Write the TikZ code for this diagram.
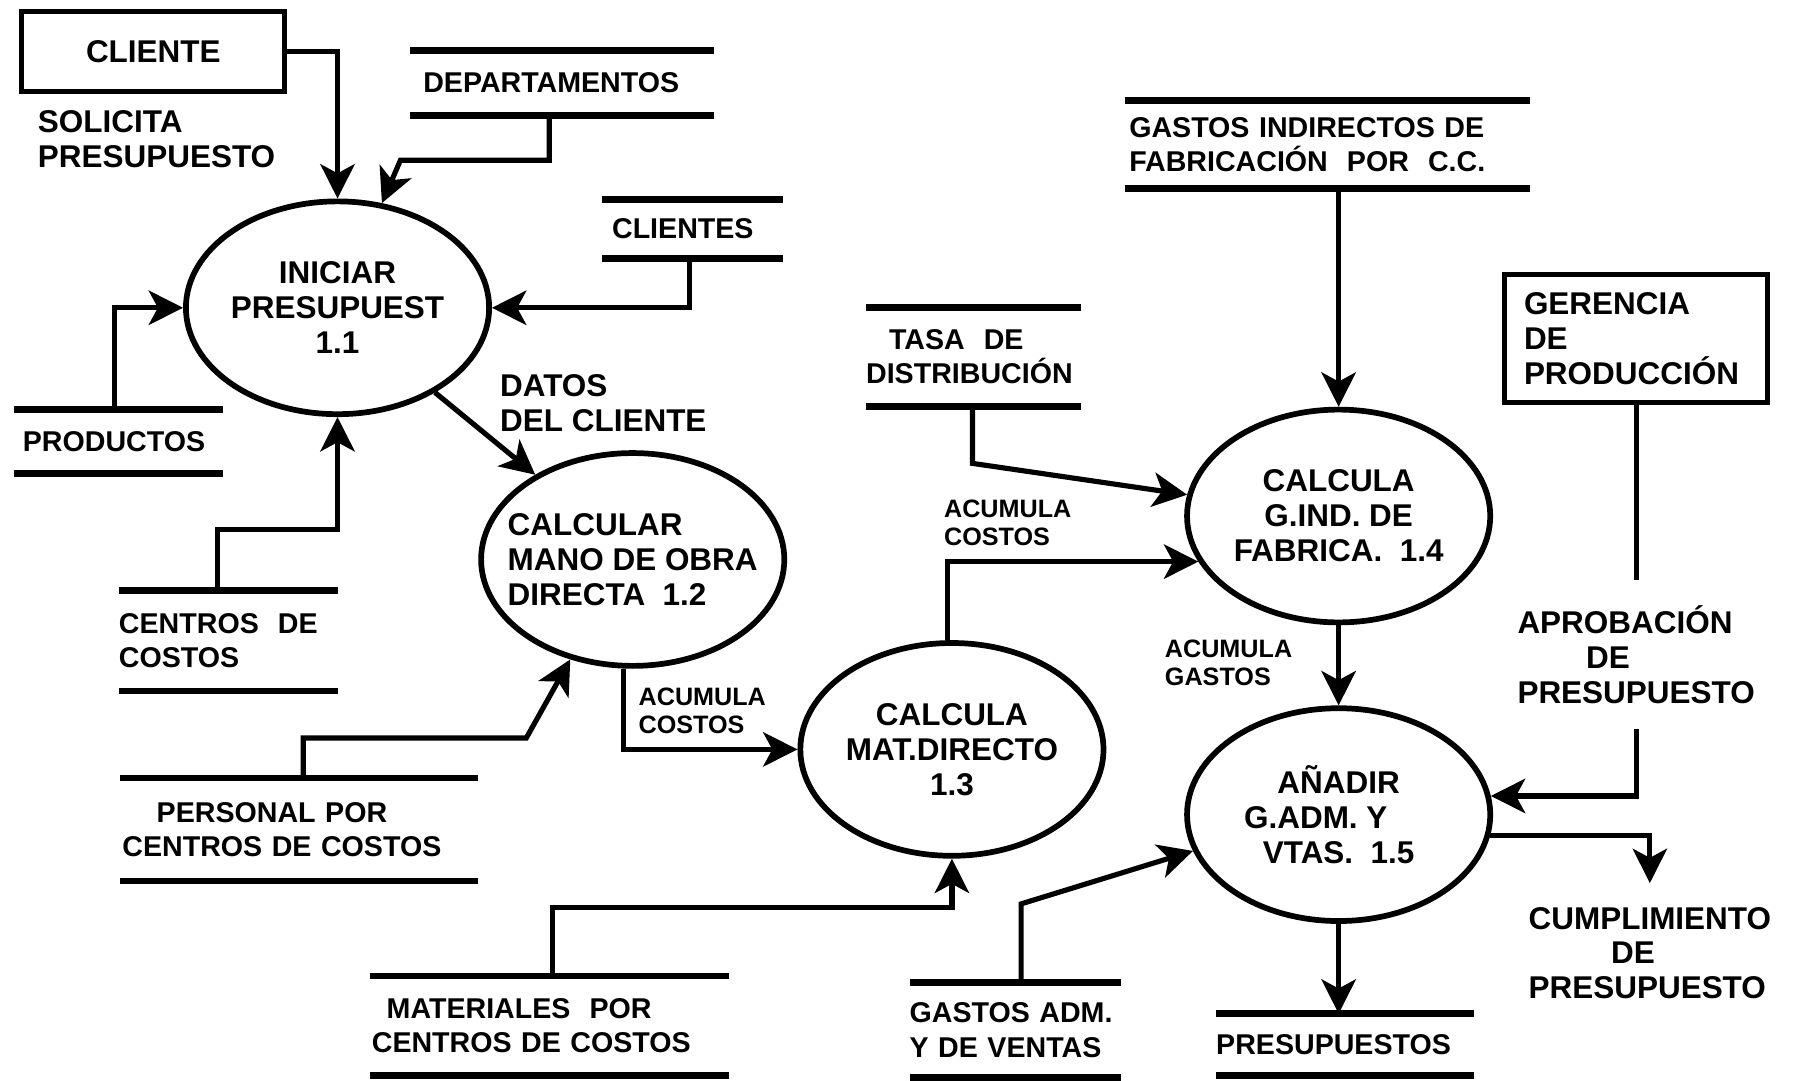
\documentclass[tikz,border=0pt]{standalone}
\usepackage{fontspec}
\setmainfont{Liberation Sans}
\usetikzlibrary{arrows.meta,shapes.geometric,calc}

\begin{document}
\begin{tikzpicture}[x=1pt,y=-1pt,
  txt/.style={font=\bfseries\fontsize{27.5}{30.5}\selectfont},
  small/.style={font=\bfseries\fontsize{22}{24.5}\selectfont},
  process/.style={ellipse, draw, line width=5pt, minimum width=265pt,
    minimum height=186pt, inner xsep=-25pt, inner ysep=0pt, align=center, txt},
  entity/.style={rectangle, draw, line width=4.5pt, inner sep=0pt, txt},
  datastore/.style={rectangle, inner sep=0pt, outer sep=0pt, align=left,
    font=\bfseries\fontsize{25}{30}\selectfont},
  storeline/.style={line width=6pt},
  flow/.style={line width=4.5pt, -{Stealth[length=30pt,width=30pt,inset=8pt]}},
  link/.style={line width=4.5pt},
  lbl/.style={txt, align=left, inner sep=0pt},
]
\useasboundingbox (0,0) rectangle (1568,944);

% external entities
\node[entity, minimum width=230pt, minimum height=70pt] (cliente) at (134,45) {CLIENTE};
\node[entity, minimum height=112pt, align=left, text width=196pt, inner xsep=17pt]
  (gerencia) at (1430,296) {GERENCIA\\DE\\PRODUCCIÓN};

% processes
\node[process] (p11) at (295,269) {INICIAR\\PRESUPUEST\\1.1};
\node[process, align=left] (p12) at (553,489) {CALCULAR\\MANO DE OBRA\\DIRECTA\ \ 1.2};
\node[process] (p13) at (832,655) {CALCULA\\MAT.DIRECTO\\1.3};
\node[process] (p14) at (1170,451) {CALCULA\\G.IND. DE\\FABRICA.\ \ 1.4};
\node[process] (p15) at (1170,712) {AÑADIR\\G.ADM. Y\hspace*{40pt}\mbox{}\\VTAS.\ \ 1.5};

% data stores
\node[datastore, text width=266pt, minimum height=57pt] (dep) at (491,72.5) {\hspace*{12pt}DEPARTAMENTOS};
\node[datastore, text width=158pt, minimum height=52pt] (cli) at (605,200) {\hspace*{9pt}CLIENTES};
\node[datastore, text width=183pt, minimum height=56pt] (prod) at (103.5,386) {\hspace*{8pt}PRODUCTOS};
\node[datastore, text width=191pt, minimum height=88pt] (cc) at (199.5,560) {CENTROS\ \ DE\\COSTOS};
\node[datastore, text width=313pt, minimum height=90pt] (pers) at (261.5,725)
  {\hspace*{32pt}PERSONAL POR\\\hspace*{2pt}CENTROS DE COSTOS};
\node[datastore, text width=314pt, minimum height=87pt] (mat) at (480,896.5)
  {\hspace*{15pt}MATERIALES\ \ POR\\\hspace*{2pt}CENTROS DE COSTOS};
\node[datastore, text width=188pt, minimum height=86pt] (tasa) at (851,312)
  {\hspace*{20pt}TASA\ \ DE\\DISTRIBUCIÓN};
\node[datastore, text width=354pt, minimum height=77pt] (gif) at (1160,126.5)
  {\hspace*{4pt}GASTOS INDIRECTOS DE\\\hspace*{4pt}FABRICACIÓN\ \ POR\ \ C.C.};
\node[datastore, text width=185pt, minimum height=83pt] (gadm) at (887.5,900.5)
  {GASTOS ADM.\\Y DE VENTAS};
\node[datastore, text width=225pt, minimum height=54pt] (pres) at (1175.5,913) {PRESUPUESTOS};

\foreach \s in {dep,cli,prod,cc,pers,mat,tasa,gif,gadm,pres}
  \draw[storeline] (\s.north west) -- (\s.north east) (\s.south west) -- (\s.south east);

% flow labels
\node[lbl, anchor=west] (solicita) at (33,121.5) {SOLICITA\\PRESUPUESTO};
\node[lbl, anchor=west] (datos) at (437,352) {DATOS\\DEL CLIENTE};
\node[lbl, small, anchor=west] (acum1) at (558,621) {ACUMULA\\COSTOS};
\node[lbl, small, anchor=west] (acum2) at (825,457) {ACUMULA\\COSTOS};
\node[lbl, small, anchor=west] (acumg) at (1018,579.5) {ACUMULA\\GASTOS};
\node[lbl, minimum height=130pt] (aprob) at (1430,572) {APROBACIÓN\\\hspace*{60pt}DE\\PRESUPUESTO};
\node[lbl, minimum height=122pt] (cump) at (1442,833) {CUMPLIMIENTO\\\hspace*{72pt}DE\\PRESUPUESTO};

% data flows
\draw[flow] (cliente.east) -| (p11.north);
\draw[flow] ([xshift=-11pt]dep.south) -- ++(0,39) -- ++(-130,0) -- (p11.67);
\draw[flow] ([xshift=-2pt]cli.south) |- (p11.east);
\draw[flow] ([xshift=-3.5pt]prod.north) |- (p11.west);
\draw[flow] ([xshift=-9.5pt]cc.north) -- ++(0,-53) -| (p11.south);
\draw[flow] (p11.-41) -- (p12.139);
\draw[flow] ([xshift=3.5pt]pers.north) -- ++(0,-35) -- ++(195,0) -- (p12.-122);
\draw[flow] ([xshift=-8pt]p12.south) |- (p13.west);
\draw[flow] ([xshift=3pt]mat.north) -- ++(0,-60) -| (p13.south);
\draw[flow] ([xshift=-4pt]p13.north) |- (p14.198);
\draw[flow] ([xshift=-1pt]tasa.south) -- ++(0,50) -- (p14.172);
\draw[flow] (gif.south -| p14.north) -- (p14.north);
\draw[flow] (p14.south) -- (p15.north);
\draw[link] (gerencia.south) -- (aprob.north);
\draw[flow] (aprob.south) |- (p15.7);
\draw[flow] (p15.-8) -| (cump.north);
\draw[flow] (p15.south) -- (p15.south |- pres.north);
\draw[flow] ([xshift=5pt]gadm.north) -- ++(0,-69) -- (p15.194);
\end{tikzpicture}
\end{document}
